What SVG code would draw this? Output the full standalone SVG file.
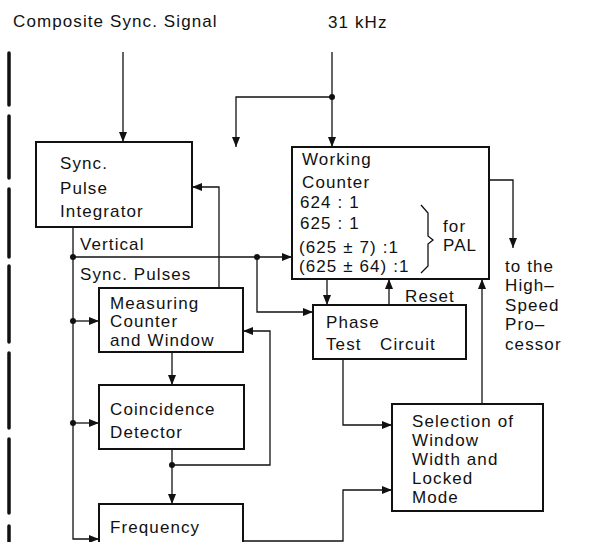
<svg xmlns="http://www.w3.org/2000/svg" width="591" height="542" viewBox="0 0 591 542">
<style>
text{font-family:"Liberation Sans",Arial,sans-serif;font-size:17px;letter-spacing:1.1px;fill:#111}
.box{fill:#fff;stroke:#111;stroke-width:2}
.c{fill:none;stroke:#111;stroke-width:1.3}
.dot{fill:#111}
.dash{fill:none;stroke:#111;stroke-width:3.5;stroke-linecap:round}
</style>
<defs>
<marker id="ah" viewBox="0 0 10 8" refX="10" refY="4" markerWidth="10" markerHeight="8" markerUnits="userSpaceOnUse" orient="auto">
<path d="M0 0 L10 4 L0 8 Z" fill="#111"/>
</marker>
</defs>
<rect width="591" height="542" fill="#fff"/>
<g id="border">
<path class="dash" d="M9 53V105M9 116V178M9 189V257M9 266V342M9 353V428M9 439V513M9 526V545"/>
</g>
<g id="labels">
<text x="13" y="27">Composite Sync. Signal</text>
<text x="328" y="28">31 kHz</text>
<text x="80" y="250">Vertical</text>
<text x="80" y="280">Sync. Pulses</text>
<text x="405" y="302">Reset</text>
<text x="505" y="272">to the</text>
<text x="505" y="291">High–</text>
<text x="505" y="311">Speed</text>
<text x="505" y="330">Pro–</text>
<text x="505" y="350">cessor</text>
</g>
<g id="connectors">
<path class="c" marker-end="url(#ah)" d="M123 52V142"/>
<path class="c" marker-end="url(#ah)" d="M332 52V147"/>
<path class="c" marker-end="url(#ah)" d="M332 97H236V147"/>
<path class="c" marker-end="url(#ah)" d="M73 227V539H99"/>
<path class="c" marker-end="url(#ah)" d="M73 257H292"/>
<path class="c" marker-end="url(#ah)" d="M257 257V312H313"/>
<path class="c" marker-end="url(#ah)" d="M73 321H99"/>
<path class="c" marker-end="url(#ah)" d="M73 423H99"/>
<path class="c" marker-end="url(#ah)" d="M219 288V187H192"/>
<path class="c" marker-end="url(#ah)" d="M172 352V385"/>
<path class="c" marker-end="url(#ah)" d="M172 449V504"/>
<path class="c" marker-end="url(#ah)" d="M172 465H270V331H243"/>
<path class="c" marker-end="url(#ah)" d="M489 180H513V248"/>
<path class="c" marker-end="url(#ah)" d="M327 279V305"/>
<path class="c" marker-end="url(#ah)" d="M389 305V279"/>
<path class="c" marker-end="url(#ah)" d="M482 404V279"/>
<path class="c" marker-end="url(#ah)" d="M343 359V425H392"/>
<path class="c" marker-end="url(#ah)" d="M243 541H343V490H392"/>
<circle class="dot" cx="332" cy="97" r="3"/>
<circle class="dot" cx="73" cy="257" r="3"/>
<circle class="dot" cx="257" cy="257" r="3"/>
<circle class="dot" cx="73" cy="321" r="3"/>
<circle class="dot" cx="73" cy="423" r="3"/>
<circle class="dot" cx="172" cy="465" r="3"/>
</g>
<g id="sync-pulse-integrator">
<rect class="box" x="36" y="142" width="156" height="85"/>
<text x="60" y="169">Sync.</text>
<text x="60" y="194">Pulse</text>
<text x="60" y="217">Integrator</text>
</g>
<g id="working-counter">
<rect class="box" x="292" y="147" width="197" height="132"/>
<text x="302" y="165">Working</text>
<text x="302" y="188">Counter</text>
<text x="300" y="208">624 : 1</text>
<text x="300" y="229">625 : 1</text>
<text x="299" y="253">(625 ± 7) :1</text>
<text x="299" y="272">(625 ± 64) :1</text>
<path class="c" d="M421 205L428 213V236L433 240L428 244V266L421 273"/>
<text x="443" y="232">for</text>
<text x="443" y="251">PAL</text>
</g>
<g id="measuring-counter">
<rect class="box" x="99" y="288" width="144" height="64"/>
<text x="110" y="309">Measuring</text>
<text x="110" y="327">Counter</text>
<text x="110" y="346">and Window</text>
</g>
<g id="phase-test">
<rect class="box" x="313" y="305" width="153" height="54"/>
<text x="326" y="328">Phase</text>
<text x="326" y="350">Test</text>
<text x="380" y="350">Circuit</text>
</g>
<g id="coincidence-detector">
<rect class="box" x="99" y="385" width="145" height="64"/>
<text x="110" y="415">Coincidence</text>
<text x="110" y="438">Detector</text>
</g>
<g id="selection">
<rect class="box" x="392" y="404" width="151" height="107"/>
<text x="412" y="427">Selection of</text>
<text x="412" y="446">Window</text>
<text x="412" y="465">Width and</text>
<text x="412" y="484">Locked</text>
<text x="412" y="503">Mode</text>
</g>
<g id="frequency">
<rect class="box" x="99" y="504" width="144" height="60"/>
<text x="110" y="533">Frequency</text>
</g>
</svg>
